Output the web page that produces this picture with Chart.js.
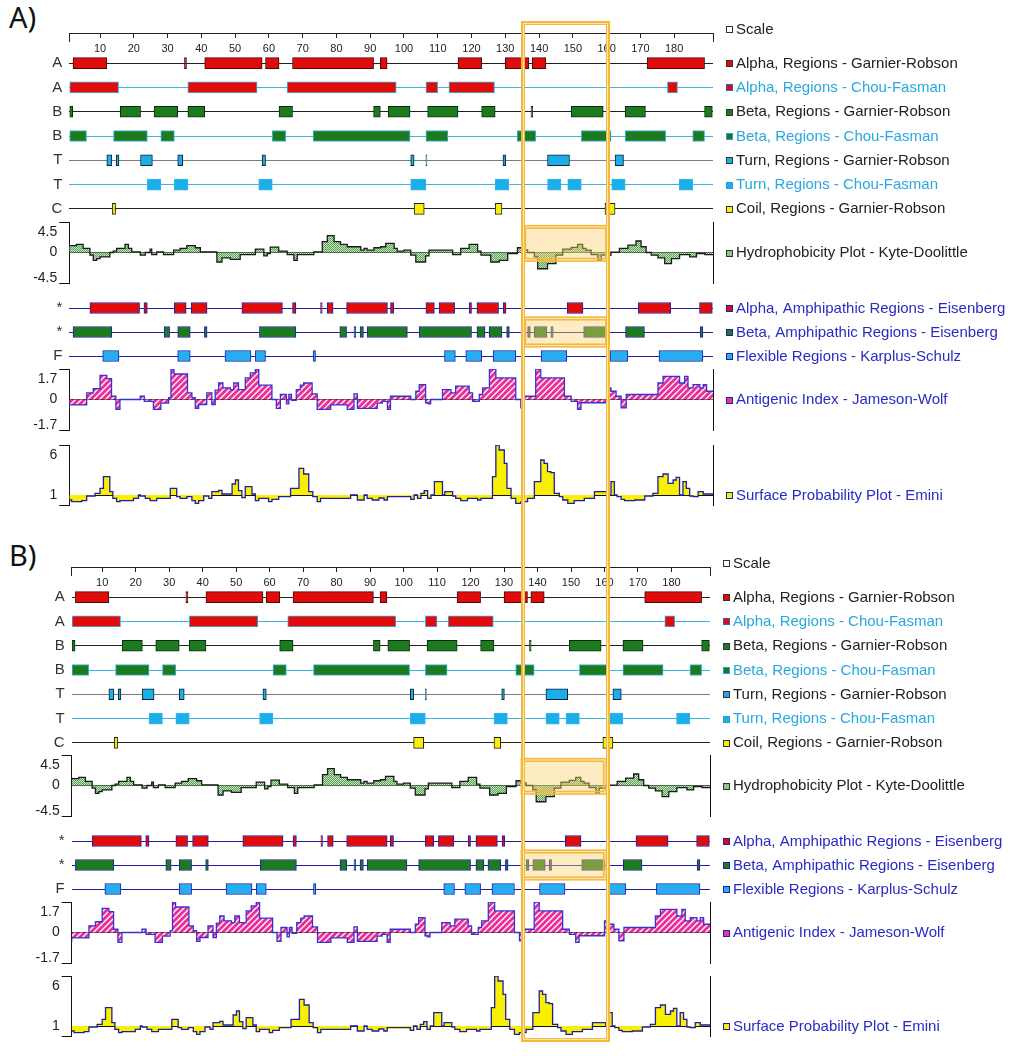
<!DOCTYPE html>
<html><head><meta charset="utf-8">
<script src="https://cdn.jsdelivr.net/npm/chart.js@4.4.1/dist/chart.umd.min.js"></script>
<style>
html,body{margin:0;padding:0;background:#fff;}
#page{position:relative;width:1012px;height:1056px;overflow:hidden;background:#fff;}
canvas{position:absolute;left:0;}
.plabel{position:absolute;left:9px;font-family:"Noto Sans",sans-serif;font-size:29px;line-height:29px;color:#111;}
#hl{position:absolute;box-sizing:border-box;border:2px solid #f5b83c;box-shadow:inset 0 0 0 1px #fde6a8, inset 0 0 0 2px #f5b83c;pointer-events:none;z-index:10;}
</style></head>
<body><div id="page"></div>
<script>
// ---------------- DATA ----------------
const residueRange = [0.9, 191.5];
const scaleTicks = [10,20,30,40,50,60,70,80,90,100,110,120,130,140,150,160,170,180];
const highlightRange = [134.9, 160.8];

const rows1Letters = ['A','A','B','B','T','T','C'];
const rows1Legend = ['Alpha, Regions - Garnier-Robson','Alpha, Regions - Chou-Fasman','Beta, Regions - Garnier-Robson','Beta, Regions - Chou-Fasman','Turn, Regions - Garnier-Robson','Turn, Regions - Chou-Fasman','Coil, Regions - Garnier-Robson'];
const alphaGR = [[2,12],[35,35.6],[41,58],[59,63],[67,91],[93,95],[116,123],[130,137],[138,142],[172,189]];
const alphaCF = [[1,15.5],[36,56.5],[65.4,97.7],[106.5,110],[113.3,126.8],[178,181]];
const betaGR = [[1,1.9],[16,22],[26,33],[36,41],[63,67],[91,93],[95.3,101.8],[107,116],[123,127],[137.6,138.1],[149.5,159],[165.5,171.5],[189,191.3]];
const betaCF = [[1,6],[14,24],[28,32],[61,65],[73.1,101.8],[106.5,113],[133.5,139],[152.5,161.3],[165.5,177.5],[185.5,189]];
const turnGR = [[12,13.5],[14.8,15.6],[22,25.5],[33,34.5],[58,59],[102,103],[106.5,106.8],[129.3,130.1],[142.5,149],[162.5,165]];
const turnCF = [[24,28],[32,36],[57,61],[102,106.5],[127,131],[142.5,146.5],[148.5,152.5],[161.5,165.5],[181.5,185.5]];
const coilGR = [[13.6,14.6],[103,106],[127,129],[159.5,162.5]];

const rows2Letters = ['*','*','F'];
const rows2Legend = ['Alpha, Amphipathic Regions - Eisenberg','Beta, Amphipathic Regions - Eisenberg','Flexible Regions - Karplus-Schulz'];
const alphaAmph = [[7,21.7],[23,24],[32,35.5],[37,41.7],[52,64],[67,68],[75.3,75.8],[77.3,79],[83,95.1],[96,97],[106.5,109],[110.4,115],[119.3,120],[121.6,128],[129.4,130.2],[148.3,153],[169.4,179],[187.5,191.3]];
const betaAmph = [[2,13.5],[29,30.6],[33,36.7],[40.9,41.7],[57.2,68],[81,83],[85.2,85.7],[87,88],[89.1,101],[104.5,120],[121.6,124],[125.2,129],[130.4,131.2],[136.6,137.4],[138.6,142.3],[143.5,144.2],[153.2,160],[165.6,171.2],[187.7,188.5]];
const flexKS = [[10.8,15.6],[33,36.7],[47,54.7],[56,59],[73.1,73.8],[112,115.2],[118.3,123],[126.4,133.1],[140.6,148.2],[161,166.3],[175.5,188.5]];

const hydroLegend = 'Hydrophobicity Plot - Kyte-Doolittle';
const hydroTicks = [-4.5, 0, 4.5];
const hydroStart = [0.9,3,5,7,8,9,10,12.9,13.9,14.9,17.4,18.4,19.4,21.9,23.4,24.8,25.3,26.8,28.8,31.8,33.7,35.7,38.2,39.7,44.6,46.1,48.6,51.5,56,58.5,59.5,60.4,62.9,65.4,67.4,68.4,73.3,75.8,77.3,79.3,81.2,83.2,87.2,88.2,89.1,91.1,93.1,94.6,97.1,98,100,102,103.5,106.4,107.4,114.4,116.8,119.3,121.8,122.8,125.7,128.2,130.7,133.6,135.1,136.6,138.6,139.6,142.5,145,147,149.5,151.4,152.9,153.9,155.4,157.4,158.4,161.3,163.8,166.3,168.7,170.2,171.7,173.2,175.2,177.2,179.2,181.6,184.6,186.6,189.1,190.6];
const hydroValue = [1.2,1.0,1.2,0.6,-0.4,-1.15,-0.9,-0.65,0,0.2,0.6,1.2,0.6,0.1,-0.4,0,0.5,-0.3,0.1,-0.3,0.35,0.6,1.0,0.7,0.1,-1.4,-0.8,-1.0,-0.3,0.5,-0.5,-0.15,0.8,0.2,-0.3,-1.15,-0.3,0.1,1.6,2.5,1.6,1.2,0.85,0.35,0.6,0.35,0.7,0.85,1.35,0.6,0.2,0.35,-0.4,-1.4,-0.5,0.35,-0.3,0.6,1.2,0.2,-0.4,-1.4,-1.15,-0.15,0.7,0.4,0,-0.65,-2.4,-1.65,-0.4,0.5,0.75,1.2,0.6,0.35,-0.3,-1.15,-0.4,0.05,0.6,1.1,1.7,0.85,0,-0.4,-0.8,-1.65,-0.9,-0.3,-0.65,-0.15,-0.3];

const antigenLegend = 'Antigenic Index - Jameson-Wolf';
const antigenTicks = [-1.7, 0, 1.7];
const antigenStart = [0.9,6.05,8,10,12,13.4,14.7,15.9,21.9,23.1,25.8,28,30.3,31,31.9,35.9,37.2,38.2,39.2,41.6,43.1,44.1,45.1,46.4,48.6,49.6,51,53,54.5,56,57,60.9,62.2,63.4,65.2,65.9,66.7,68.1,69.3,70.3,72.8,74.3,78.3,83.2,85.2,86.2,92.1,93.6,95.1,96,102,103.5,104.5,106.4,107.1,107.9,111.4,113.9,115.3,119.3,120.3,122.3,123.3,125.3,127.2,133.1,134.6,135.6,139,140.5,147.5,149.5,151.4,152.4,160,161.3,162.8,164.3,165.8,175.2,176.7,181.6,183.1,184.1,185.6,187.6,188.6,189.6,190.6];
const antigenValue = [-0.55,-0.3,0.37,0.6,1.35,1.16,0.18,-0.55,0,0.18,-0.1,-0.55,-0.2,0.1,1.7,1.42,0.37,0.1,-0.5,-0.28,0.37,-0.28,0.52,0.92,0.65,0.55,0.92,0.55,1.2,1.48,1.7,0.8,0,-0.5,0.28,-0.24,0.28,-0.05,0.55,0.8,0.92,0.31,-0.55,-0.3,-0.55,0.31,-0.5,-0.2,-0.1,-0.55,0.18,0,0.46,0.83,-0.18,-0.24,0,0.55,0.37,0.74,0.37,-0.1,0.28,0.65,1.7,1.2,0,-0.46,0.18,1.7,1.2,0.18,-0.1,-0.55,-0.18,0.65,0.46,0.18,-0.46,0.28,0.92,1.29,0.92,1.29,0.65,0.83,0.65,0.83,0.46];

const surfaceLegend = 'Surface Probability Plot - Emini';
const surfaceTicks = [0, 1, 6];
const surfaceStart = [0.9,1.6,4.6,6.05,8.5,10,11,12.9,13.8,14.9,15.9,19.9,21.4,21.9,23.4,24.8,26.8,30.8,32.7,33.7,35.7,37.2,38.2,39.2,40.7,42.2,43.1,45.1,46.1,49.1,50.1,51,52,53,55,56,57,59.9,60.9,62.9,66.4,68.9,70.3,71.8,73,74.3,75.3,84.2,86.2,88.2,89.1,90.6,92.6,94.1,95.1,102,103,104,105,106,107,108,109,111.4,112.1,114.4,115.3,116.8,118.8,121.8,122.8,126.2,127.2,128.2,129.7,130.5,131.7,133.1,134.6,136.6,138.6,140.5,141.5,142.5,143.5,144.5,146,147,148.5,150.4,153.4,156.4,160.4,161.3,162.3,163.1,164.3,165.3,168.3,171.3,173.7,175.2,176.7,178.2,179.7,180.6,181.6,182.6,183.6,184.6,185.6,187.1,188.6,189.6];
const surfaceValue = [0.43,0.5,0.33,0.43,0.9,1.17,1.67,2.83,1.33,0.67,0.33,0.43,0.67,1.0,0.9,0.67,0.43,0.67,1.67,0.83,0.67,0.83,0.43,0.17,0.43,0.9,0.67,1.33,1.47,1.1,2.1,2.5,1.43,0.73,1.83,1.1,0.43,0.67,0.33,0.57,0.83,1.67,3.67,3.1,1.33,0.83,0.33,0.67,1.0,0.5,1.0,0.67,0.5,0.7,0.5,0.83,0.57,1.0,0.67,1.17,1.43,0.67,1.0,2.33,1.0,1.33,0.9,0.67,0.43,0.67,0.5,0.67,2.83,6.0,5.5,4.17,1.67,0.67,0.17,0.33,0.67,2.33,4.5,4.17,3.33,3.23,1.17,0.83,0.5,0.17,0.43,0.67,1.33,1.0,2.33,1.0,0.83,0.57,0.43,0.5,0.9,1.17,2.83,3.1,2.17,2.5,2.77,1.0,2.33,1.67,0.9,0.83,1.33,1.1];

const hydroBoxRange = [-1.4, 4.1];
const betaAmphBoxRange = [0.345, 1.655];

// ---------------- STYLE / LAYOUT ----------------
const FONT = '"Liberation Sans", Arial, sans-serif';
Chart.defaults.font.family = FONT;
const W = 1012, M = 20;
const C = { red:'#e00c0c', green:'#1c7b1e', turn:'#1aaeea', cf:'#3ab4e6', yellow:'#f8f000', navy:'#1f1fa8', black:'#222', gray:'#7c7c7c', cyanText:'#27a8df', blueText:'#2a2ac4', light:'#26aef0' };
const rows1Style = [
  {fill:C.red, border:'#4a0808', line:C.black},
  {fill:C.red, border:C.cf, line:C.cf},
  {fill:C.green, border:'#0c2a0c', line:C.black},
  {fill:C.green, border:C.cf, line:C.cf},
  {fill:C.turn, border:'#10202a', line:C.gray},
  {fill:C.turn, border:C.cf, line:C.cf},
  {fill:C.yellow, border:'#222', line:C.black}
];
const rows1LegendStyle = [
  {color:C.black, box:C.red, boxBorder:'#333'},
  {color:C.cyanText, box:C.red, boxBorder:'#3060c0'},
  {color:C.black, box:C.green, boxBorder:'#333'},
  {color:C.cyanText, box:C.green, boxBorder:'#2aa0d0'},
  {color:C.black, box:C.turn, boxBorder:'#333'},
  {color:C.cyanText, box:C.turn, boxBorder:'#2aa0d0'},
  {color:C.black, box:C.yellow, boxBorder:'#333'}
];
const rows2Style = [
  {fill:C.red, border:C.navy, line:C.navy},
  {fill:C.green, border:C.navy, line:C.navy},
  {fill:C.light, border:C.navy, line:C.navy}
];
const rows2LegendStyle = [
  {color:C.blueText, box:C.red, boxBorder:C.navy},
  {color:C.blueText, box:C.green, boxBorder:C.navy},
  {color:C.blueText, box:C.light, boxBorder:C.navy}
];

const panels = [
  {label:'A)', labelTop:2, left:69.3, right:713, top:{scale:33, rows1:51, hydro:222, rows2:296, anti:369, surf:445}},
  {label:'B)', labelTop:540, left:71.7, right:710, top:{scale:567, rows1:585, hydro:755, rows2:829, anti:902, surf:976}}
];
const HT = {scale:5, rows1:170, hydro:61, rows2:72, anti:61, surf:60};

const page = document.getElementById('page');

function addCanvas(top, h, extra) {
  extra = extra || 0;
  const c = document.createElement('canvas');
  const H = Math.round(h) + 2*M + extra;
  c.width = W; c.height = H;
  c.style.width = W + 'px'; c.style.height = H + 'px';
  c.style.top = (Math.round(top) - M) + 'px';
  page.appendChild(c);
  return c;
}

function baseOptions(padRight) {
  return { responsive:false, maintainAspectRatio:false, animation:false, devicePixelRatio:1, events:[],
    layout:{padding:{top:M, bottom:M, left:0, right:padRight}},
    plugins:{legend:{display:false}, tooltip:{enabled:false}} };
}

function legendPlugin(items, P, scaleId) {
  return { id:'sideLegend', afterDraw(chart) {
    const ctx = chart.ctx, bx = Math.round(P.right + 13);
    items.forEach(it => {
      const y = it.at === 'top' ? chart.chartArea.top - 4 : chart.scales[scaleId].getPixelForValue(it.at);
      const yr = Math.round(y);
      ctx.save();
      ctx.fillStyle = it.box; ctx.fillRect(bx, yr - 3, 7, 7);
      ctx.strokeStyle = it.boxBorder; ctx.lineWidth = 1; ctx.strokeRect(bx + 0.5, yr - 2.5, 6, 6);
      ctx.fillStyle = it.color; ctx.font = '15px ' + FONT; ctx.textBaseline = 'middle'; ctx.textAlign = 'left';
      ctx.fillText(it.text, bx + 10, y + 0.5);
      ctx.restore();
    });
  }};
}

function highlightPlugin(scaleId, range) {
  return { id:'hlbox', afterDatasetsDraw(chart) {
    const xs = chart.scales.x, ys = chart.scales[scaleId];
    const x1 = xs.getPixelForValue(highlightRange[0]), x2 = xs.getPixelForValue(highlightRange[1]);
    const a = ys.getPixelForValue(range[0]), b = ys.getPixelForValue(range[1]);
    const y1 = Math.min(a, b), y2 = Math.max(a, b);
    const ctx = chart.ctx;
    ctx.save();
    ctx.fillStyle = 'rgba(251,208,110,0.42)';
    ctx.fillRect(x1, y1, x2 - x1, y2 - y1);
    ctx.strokeStyle = '#f5b83c'; ctx.lineWidth = 1.5;
    ctx.strokeRect(x1 + 1, y1 + 1, x2 - x1 - 2, y2 - y1 - 2);
    ctx.strokeRect(x1 + 3.5, y1 + 3.5, x2 - x1 - 7, y2 - y1 - 7);
    ctx.restore();
  }};
}

function scaleChart(P) {
  const cv = addCanvas(P.top.scale, HT.scale, 20);
  const allTicks = [residueRange[0]].concat(scaleTicks, [residueRange[1]]);
  const last = allTicks.length - 1;
  return new Chart(cv, { type:'line', data:{datasets:[]},
    options: Object.assign(baseOptions(W - P.right), { scales: {
      x:{ type:'linear', position:'bottom', min:residueRange[0], max:residueRange[1],
          afterBuildTicks: s => { s.ticks = allTicks.map(v => ({value:v})); },
          ticks:{ callback:(v, i) => (i === 0 || i === last) ? '' : String(v), autoSkip:false, maxRotation:0, minRotation:0, padding:0, color:'#222', font:{size:11} },
          grid:{ drawOnChartArea:true, color:'#222', lineWidth:1, tickLength:4, tickColor: c => (c.index === 0 || c.index === last) ? '#222' : 'rgba(0,0,0,0)' },
          border:{display:false}, afterFit: s => { s.height = 20; } },
      y:{ type:'linear', position:'left', min:0, max:1,
          afterBuildTicks: s => { s.ticks = [{value:0},{value:1}]; },
          ticks:{display:false}, grid:{drawTicks:false, color: c => (c.tick && c.tick.value === 1) ? '#222' : 'rgba(0,0,0,0)'},
          border:{display:false}, afterFit: s => { s.width = P.left; } }
    }}),
    plugins:[legendPlugin([{text:'Scale', color:'#222', box:'#fff', boxBorder:'#333', at:'top'}], P, 'y')] });
}

function rowChart(P, top, h, letters, rows, styles, legendTexts, legendStyles, hl) {
  const cv = addCanvas(top, h);
  const keys = letters.map((_, i) => 'r' + i);
  const datasets = rows.map((regs, i) => ({
    data: regs.map(r => ({x:r, y:keys[i]})),
    backgroundColor: styles[i].fill, borderColor: styles[i].border, borderWidth:1, borderSkipped:false,
    barThickness:11, grouped:false
  }));
  const items = legendTexts.map((t, i) => Object.assign({text:t, at:i}, legendStyles[i]));
  const plugins = [legendPlugin(items, P, 'y')];
  if (hl) plugins.push(hl);
  return new Chart(cv, { type:'bar', data:{labels:keys, datasets},
    options: Object.assign(baseOptions(W - P.right), { indexAxis:'y', scales: {
      x:{ type:'linear', min:residueRange[0], max:residueRange[1], display:false },
      y:{ type:'category', position:'left', offset:true,
          grid:{ offset:false, drawTicks:false, lineWidth:1, color: c => (styles[c.index] ? styles[c.index].line : 'rgba(0,0,0,0)') },
          border:{display:false},
          ticks:{ callback:(v, i) => letters[i], padding:7, color:'#333', font:{size:15} },
          afterFit: s => { s.width = P.left; } }
    }}), plugins });
}

function makeDotPattern() {
  const c = document.createElement('canvas'); c.width = 2; c.height = 2;
  const g = c.getContext('2d');
  g.fillStyle = '#c4e8c0'; g.fillRect(0, 0, 2, 2);
  g.fillStyle = '#5a9e56'; g.fillRect(0, 0, 1, 1); g.fillRect(1, 1, 1, 1);
  return g.createPattern(c, 'repeat');
}
function makeHatchPattern() {
  const c = document.createElement('canvas'); c.width = 6; c.height = 6;
  const g = c.getContext('2d');
  g.fillStyle = '#ea2f98'; g.fillRect(0, 0, 6, 6);
  g.strokeStyle = '#ffffff'; g.lineWidth = 1.3;
  g.beginPath(); g.moveTo(0, 6); g.lineTo(6, 0); g.moveTo(-1, 1); g.lineTo(1, -1); g.moveTo(5, 7); g.lineTo(7, 5); g.stroke();
  return g.createPattern(c, 'repeat');
}

function areaChart(P, top, h, cfg, hl) {
  const cv = addCanvas(top, h);
  const pts = cfg.start.map((x, i) => ({x, y:cfg.value[i]}));
  pts.push({x:residueRange[1], y:cfg.value[cfg.value.length - 1]});
  const tmin = cfg.ticks[0], tmax = cfg.ticks[cfg.ticks.length - 1];
  const plugins = [legendPlugin([Object.assign({text:cfg.legend, at:cfg.base}, cfg.legendStyle)], P, 'y')];
  if (hl) plugins.push(hl);
  return new Chart(cv, { type:'line',
    data:{datasets:[{ data:pts, stepped:'after', borderColor:cfg.line, borderWidth:1.3, backgroundColor:cfg.fill, fill:cfg.fillTo, pointRadius:0, tension:0 }]},
    options: Object.assign(baseOptions(0), { scales: {
      x:{ type:'linear', min:residueRange[0], max:residueRange[1], display:false },
      y:{ type:'linear', position:'left', min:tmin, max:tmax, z:1,
          afterBuildTicks: s => { s.ticks = cfg.ticks.map(v => ({value:v})); },
          ticks:{ callback:(v, i) => cfg.labels[i], padding:2, color:'#222', font:{size:14, lineHeight:0.72}, autoSkip:false },
          grid:{ lineWidth:1, tickLength:10,
                 color: c => (c.tick && c.tick.value === cfg.base) ? '#111' : 'rgba(0,0,0,0)',
                 tickColor: c => (c.tick && c.tick.value === cfg.base) ? 'rgba(0,0,0,0)' : '#111' },
          border:{display:true, color:'#111', width:1},
          afterFit: s => { s.width = P.left; } },
      y2:{ type:'linear', position:'right', min:tmin, max:tmax,
           grid:{display:false}, ticks:{display:false}, border:{display:true, color:'#111', width:1},
           afterFit: s => { s.width = W - P.right; } }
    }}), plugins });
}

const dotPat = makeDotPattern();
const hatchPat = makeHatchPattern();
const charts = [];

panels.forEach(P => {
  const lab = document.createElement('div');
  lab.className = 'plabel'; lab.textContent = P.label; lab.style.top = P.labelTop + 'px';
  page.appendChild(lab);

  const sc = scaleChart(P);
  rowChart(P, P.top.rows1, HT.rows1, rows1Letters, [alphaGR, alphaCF, betaGR, betaCF, turnGR, turnCF, coilGR], rows1Style, rows1Legend, rows1LegendStyle);
  areaChart(P, P.top.hydro, HT.hydro, { start:hydroStart, value:hydroValue, ticks:hydroTicks, base:0,
    labels:[['-4.5',''], '0', ['', '', '4.5']], line:'#1a1a1a', fill:dotPat, fillTo:'origin',
    legend:hydroLegend, legendStyle:{color:'#222', box:'#8fc38b', boxBorder:'#333'} }, highlightPlugin('y', hydroBoxRange));
  rowChart(P, P.top.rows2, HT.rows2, rows2Letters, [alphaAmph, betaAmph, flexKS], rows2Style, rows2Legend, rows2LegendStyle, highlightPlugin('y', betaAmphBoxRange));
  areaChart(P, P.top.anti, HT.anti, { start:antigenStart, value:antigenValue, ticks:antigenTicks, base:0,
    labels:[['-1.7',''], '0', ['', '', '1.7']], line:'#3434d4', fill:hatchPat, fillTo:'origin',
    legend:antigenLegend, legendStyle:{color:C.blueText, box:'#e8379b', boxBorder:C.navy} });
  areaChart(P, P.top.surf, HT.surf, { start:surfaceStart, value:surfaceValue, ticks:surfaceTicks, base:1,
    labels:['', '1', ['', '', '6']], line:'#1e1ea0', fill:C.yellow, fillTo:{value:1},
    legend:surfaceLegend, legendStyle:{color:C.blueText, box:C.yellow, boxBorder:C.navy} });
  charts.push(sc);
});

// outer highlight frame, placed from panel A's residue scale
const xs = charts[0].scales.x;
const hlx1 = xs.getPixelForValue(highlightRange[0]);
const hlx2 = xs.getPixelForValue(highlightRange[1]);
const hl = document.createElement('div');
hl.id = 'hl';
hl.style.left = (hlx1 - 1) + 'px';
hl.style.width = (hlx2 - hlx1 + 2) + 'px';
hl.style.top = '21px';
hl.style.height = (1042 - 21) + 'px';
page.appendChild(hl);
</script>
</body></html>
